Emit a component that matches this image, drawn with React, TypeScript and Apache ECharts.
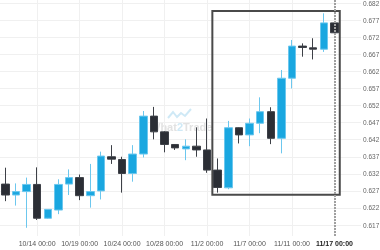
import React, { useEffect, useRef } from "react";
import * as echarts from "echarts";

const dates = [
  "10/9 00:00", "10/10 00:00", "10/11 00:00", "10/14 00:00", "10/15 00:00", "10/16 00:00",
  "10/17 00:00", "10/19 00:00", "10/21 00:00", "10/22 00:00", "10/23 00:00", "10/24 00:00",
  "10/25 00:00", "10/26 00:00", "10/27 00:00", "10/28 00:00", "10/29 00:00", "10/30 00:00",
  "10/31 00:00", "11/2 00:00", "11/3 00:00", "11/4 00:00", "11/5 00:00", "11/7 00:00",
  "11/8 00:00", "11/9 00:00", "11/10 00:00", "11/11 00:00", "11/12 00:00", "11/14 00:00",
  "11/15 00:00", "11/17 00:00", "", "",
];
const opens = [0.629, 0.6258, 0.6268, 0.6289, 0.619, 0.6214, 0.629, 0.6309, 0.6256, 0.627, 0.637, 0.6362, 0.6321, 0.6378, 0.6489, 0.6443, 0.6406, 0.6393, 0.6401, 0.639, 0.6331, 0.6279, 0.6455, 0.6434, 0.6468, 0.6502, 0.6424, 0.66, 0.6694, 0.6689, 0.6685, 0.6762];
const closes = [0.6258, 0.6268, 0.6289, 0.619, 0.6216, 0.6289, 0.6309, 0.6256, 0.6268, 0.6372, 0.6363, 0.6321, 0.6378, 0.6489, 0.6443, 0.6406, 0.6396, 0.6401, 0.639, 0.6331, 0.628, 0.6455, 0.6434, 0.6468, 0.6502, 0.6424, 0.66, 0.6694, 0.669, 0.6685, 0.6762, 0.6733];
const lows = [0.624, 0.6227, 0.6162, 0.6185, 0.6188, 0.6202, 0.6258, 0.6243, 0.6221, 0.6245, 0.6349, 0.6265, 0.6297, 0.6368, 0.6421, 0.6383, 0.639, 0.636, 0.637, 0.6323, 0.6265, 0.6275, 0.6409, 0.6401, 0.6439, 0.6407, 0.638, 0.657, 0.6663, 0.6655, 0.6677, 0.6732];
const highs = [0.6338, 0.6292, 0.6309, 0.6339, 0.6217, 0.6304, 0.6333, 0.6318, 0.6349, 0.6385, 0.6404, 0.637, 0.6404, 0.6504, 0.6516, 0.6445, 0.6407, 0.6421, 0.6456, 0.6482, 0.6365, 0.6475, 0.6456, 0.6482, 0.6544, 0.6515, 0.6624, 0.6712, 0.6702, 0.6717, 0.679, 0.6763];
const yTicks = [0.617, 0.622, 0.627, 0.632, 0.637, 0.642, 0.647, 0.652, 0.657, 0.662, 0.667, 0.672, 0.677, 0.682];
// pattern rectangle: [startIndex - 0.5, endIndex + 0.5], resistance, support
const boxX = [19.5, 31.5];
const boxY = [0.6797, 0.6259];
const currentIndex = 31;

export default function App() {
  const ref = useRef<HTMLDivElement>(null);
  useEffect(() => {
    if (!ref.current) return;
    const chart = echarts.init(ref.current, null, { renderer: "svg" });
    const ohlc = opens.map((o, i) => [o, closes[i], lows[i], highs[i]]);
    chart.setOption({
      animation: false,
      textStyle: { fontFamily: "Liberation Sans, Arial, sans-serif" },
      grid: { left: 0, right: 19, top: 0, bottom: 14, containLabel: false, outerBoundsMode: "none" },
      xAxis: [
        {
          type: "category",
          data: dates,
          boundaryGap: true,
          axisLine: { show: false },
          axisTick: { show: false },
          axisLabel: {
            interval: (i: number) => i % 4 === 3,
            fontSize: 7,
            color: "#555",
            margin: 4,
            formatter: (v: string, i: number) => (i === currentIndex ? `{b|${v}}` : v),
            rich: { b: { fontSize: 7, fontWeight: "bold", color: "#222" } },
          },
          splitLine: {
            show: true,
            interval: (i: number) => i % 4 === 3,
            alignWithLabel: true,
            lineStyle: { color: "#f0f0f0", width: 1 },
          },
        },
        { type: "value", min: -0.5, max: dates.length - 0.5, show: false, splitLine: { show: false } },
      ],
      yAxis: {
        type: "value",
        position: "right",
        min: 0.6138,
        max: 0.6829,
        axisLine: { show: false },
        axisTick: { show: false, customValues: yTicks },
        axisLabel: {
          customValues: yTicks,
          fontSize: 6.5,
          color: "#666",
          margin: 2,
          formatter: (v: number) => v.toFixed(3),
        },
        splitLine: { show: true, lineStyle: { color: "#f0f0f0", width: 1 } },
      },
      graphic: [
        {
          type: "polyline",
          z: -10,
          shape: { points: [[168, 118], [173, 112], [177, 117], [181, 113], [185, 116], [191, 109]] },
          style: { stroke: "#cfe9f6", lineWidth: 2, fill: null },
        },
        {
          type: "text",
          z: -10,
          left: 150,
          top: 121,
          style: {
            text: "{a|What}{c|2}{a|Trade}",
            rich: {
              a: { fontSize: 11, fontWeight: "bold", fill: "#e2e2e2", fontFamily: "Liberation Sans" },
              c: { fontSize: 11, fontWeight: "bold", fill: "#cfe9f6", fontFamily: "Liberation Sans" },
            },
          },
        },
      ],
      series: [
        {
          type: "line",
          xAxisIndex: 1,
          data: [[boxX[0], boxY[0]]],
          showSymbol: false,
          symbol: "none",
          lineStyle: { opacity: 0 },
          z: 1,
          markLine: {
            silent: true,
            symbol: ["none", "none"],
            label: { show: false },
            lineStyle: { type: [2, 1], color: "#a0a0a0", width: 2 },
            data: [{ xAxis: currentIndex }],
          },
        },
        {
          type: "candlestick",
          data: ohlc,
          barWidth: 8,
          z: 3,
          itemStyle: {
            color: "#1aa7e0",
            color0: "#2b2e35",
            borderColor: "#6cc7ee",
            borderColor0: "#3d4047",
            borderWidth: 1,
          },
        },
        {
          type: "line",
          xAxisIndex: 1,
          data: [[boxX[0], boxY[0]]],
          showSymbol: false,
          symbol: "none",
          lineStyle: { opacity: 0 },
          z: 4,
          markArea: {
            silent: true,
            itemStyle: { color: "rgba(0,0,0,0)", borderColor: "#4a4a4a", borderWidth: 2 },
            data: [[{ coord: [boxX[0], boxY[0]] }, { coord: [boxX[1], boxY[1]] }]],
          },
        },
      ],
    });
    return () => chart.dispose();
  }, []);
  return <div ref={ref} style={{ position: "fixed", left: 0, top: 0, width: 380, height: 250 }} />;
}
